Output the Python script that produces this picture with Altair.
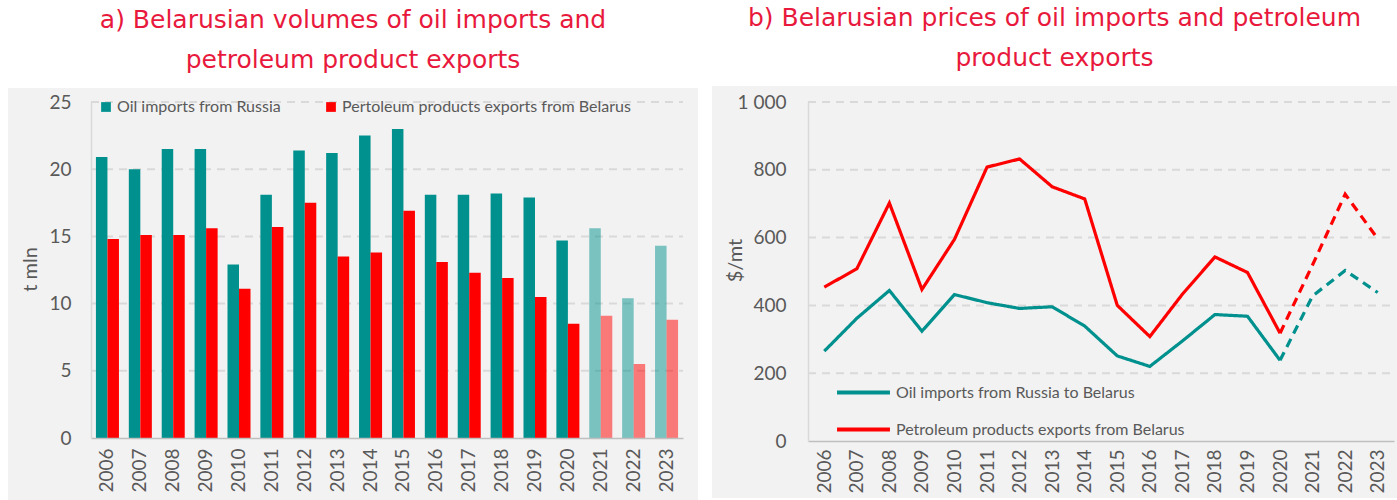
import altair as alt
import pandas as pd

years = [str(y) for y in range(2006, 2024)]

# Panel a: volumes, t mln
oil_imports_vol = [20.9, 20.0, 21.5, 21.5, 12.9, 18.1, 21.4, 21.2, 22.5, 23.0,
                   18.1, 18.1, 18.2, 17.9, 14.7, 15.6, 10.4, 14.3]
product_exports_vol = [14.8, 15.1, 15.1, 15.6, 11.1, 15.7, 17.5, 13.5, 13.8, 16.9,
                       13.1, 12.3, 11.9, 10.5, 8.5, 9.1, 5.5, 8.8]
ticks_a = [0, 5, 10, 15, 20, 25]

# Panel b: prices, $/mt
oil_imports_price = [265, 362, 444, 324, 432, 408, 391, 396, 339, 251,
                     220, 295, 373, 368, 238, 428, 503, 438]
product_exports_price = [454, 508, 702, 447, 595, 808, 832, 750, 714, 400,
                         308, 433, 543, 497, 318, 520, 728, 597]
ticks_b = [0, 200, 400, 600, 800, 1000]

estimate_from = 2021  # faded / dashed years
s_vol = ["Oil imports from Russia", "Pertoleum products exports from Belarus"]
s_price = ["Oil imports from Russia to Belarus", "Petroleum products exports from Belarus"]

TEAL = "#00918E"
RED = "#FF0000"
GREY_TXT = "#595959"
BG = "#F2F2F2"
GRID = "#D9D9D9"
FONT = "Lato"

# ---------- data tables ----------
rows = []
for i, y in enumerate(years):
    est = int(y) >= estimate_from
    rows.append({"year": y, "series": s_vol[0], "value": oil_imports_vol[i], "est": est})
    rows.append({"year": y, "series": s_vol[1], "value": product_exports_vol[i], "est": est})
bars_df = pd.DataFrame(rows)

lrows = []
for name, vals in [(s_price[0], oil_imports_price), (s_price[1], product_exports_price)]:
    for i, y in enumerate(years):
        yi = int(y)
        if yi <= 2020:
            lrows.append({"year": y, "series": name, "value": vals[i], "seg": "actual"})
        if yi >= 2020:
            lrows.append({"year": y, "series": name, "value": vals[i], "seg": "estimate"})
lines_df = pd.DataFrame(lrows)

bg_df = pd.DataFrame({"k": [0]})
grid_a_df = pd.DataFrame({"value": ticks_a[1:]})
grid_b_df = pd.DataFrame({"value": ticks_b[1:]})


def x_axis(pad):
    return alt.Axis(labelAngle=-90, labelAlign="right", labelBaseline="middle",
                    labelPadding=pad, ticks=False, domainColor="#BFBFBF",
                    domainWidth=1.5, grid=False, zindex=1)


# ---------- panel a ----------
WA, HA = 592, 336
bg_a = alt.Chart(bg_df).mark_rect(fill=BG).encode(
    x=alt.value(-83), x2=alt.value(WA + 15), y=alt.value(-14), y2=alt.value(HA + 62)
)
grid_a = alt.Chart(grid_a_df).mark_rule(color=GRID, strokeWidth=2, strokeDash=[8, 6]).encode(
    y=alt.Y("value:Q", scale=alt.Scale(domain=[0, 25])),
    x=alt.value(0), x2=alt.value(WA),
)
bars = alt.Chart(bars_df).mark_bar().encode(
    x=alt.X("year:N", sort=years, title=None,
            scale=alt.Scale(paddingInner=0.3, paddingOuter=0.15),
            axis=x_axis(10)),
    xOffset=alt.XOffset("series:N", sort=s_vol, scale=alt.Scale(paddingInner=0)),
    y=alt.Y("value:Q", title="t mln",
            scale=alt.Scale(domain=[0, 25]),
            axis=alt.Axis(values=ticks_a, ticks=False, labelPadding=20, grid=False,
                          domainColor=GRID, domainWidth=1.5, zindex=1,
                          titleX=-61, titleY=167, titleAngle=-90,
                          titleAlign="center", titleBaseline="middle")),
    color=alt.Color("series:N", sort=s_vol,
                    scale=alt.Scale(domain=s_vol, range=[TEAL, RED]),
                    legend=alt.Legend(title=None, orient="none", direction="horizontal",
                                      legendX=7, legendY=-3, symbolType="square",
                                      symbolSize=95, symbolStrokeWidth=0,
                                      labelFontSize=16, labelColor=GREY_TXT, labelFont=FONT,
                                      labelOffset=3, columnPadding=42, labelLimit=400,
                                      padding=0)),
    opacity=alt.condition("datum.est", alt.value(0.5), alt.value(1.0)),
)
panel_a = alt.layer(bg_a, grid_a, bars).properties(
    width=WA, height=HA,
    title=alt.Title(["a) Belarusian volumes of oil imports and", "petroleum product exports"],
                    anchor="middle", frame="bounds", offset=15),
)

# ---------- panel b ----------
WB, HB = 586, 339
bg_b = alt.Chart(bg_df).mark_rect(fill=BG).encode(
    x=alt.value(-96), x2=alt.value(WB + 3), y=alt.value(-16), y2=alt.value(HB + 57)
)
grid_b = alt.Chart(grid_b_df).mark_rule(color=GRID, strokeWidth=2, strokeDash=[8, 6]).encode(
    y=alt.Y("value:Q", scale=alt.Scale(domain=[0, 1000])),
    x=alt.value(0), x2=alt.value(WB - 4),
)
lines = alt.Chart(lines_df).mark_line(strokeWidth=3.2).encode(
    x=alt.X("year:N", sort=years, title=None,
            scale=alt.Scale(type="point", padding=0.5),
            axis=x_axis(8)),
    y=alt.Y("value:Q", title="$/mt",
            scale=alt.Scale(domain=[0, 1000]),
            axis=alt.Axis(values=ticks_b, ticks=False, labelPadding=22, grid=False,
                          labelExpr="replace(format(datum.value, ','), ',', ' ')",
                          domainColor=GRID, domainWidth=1.5, zindex=1,
                          titleX=-73, titleY=158, titleAngle=-90,
                          titleAlign="center", titleBaseline="middle")),
    color=alt.Color("series:N", sort=s_price,
                    scale=alt.Scale(domain=s_price, range=[TEAL, RED]),
                    legend=alt.Legend(title=None, orient="none", direction="vertical",
                                      legendX=27, legendY=262, symbolType="stroke",
                                      symbolSize=2800, symbolStrokeWidth=4,
                                      labelFontSize=16, labelColor=GREY_TXT, labelFont=FONT,
                                      labelOffset=4, rowPadding=-25, labelLimit=400,
                                      padding=0)),
    strokeDash=alt.StrokeDash("seg:N",
                              scale=alt.Scale(domain=["actual", "estimate"],
                                              range=[[1, 0], [9, 6]]),
                              legend=None),
    detail="seg:N",
)
panel_b = alt.layer(bg_b, grid_b, lines).properties(
    width=WB, height=HB,
    title=alt.Title(["b) Belarusian prices of oil imports and petroleum", "product exports"],
                    anchor="middle", frame="bounds", offset=15),
)

chart = alt.hconcat(panel_a, panel_b, spacing=14).resolve_scale(
    color="independent", strokeDash="independent", x="independent", y="independent"
).resolve_legend(
    color="independent", strokeDash="independent"
).properties(
    padding={"left": 8, "top": 6, "right": 0, "bottom": 0},
    background="white",
).configure_view(
    stroke=None, fill=BG
).configure_axis(
    labelFont=FONT, labelFontSize=19, labelColor=GREY_TXT,
    titleFont=FONT, titleFontSize=20, titleColor=GREY_TXT, titleFontWeight="normal",
).configure_title(
    font="DejaVu Sans", fontSize=25, fontWeight="normal", color="#E8193C",
    lineHeight=40,
)

chart.save("out.html", embed_options={"renderer": "svg", "actions": False})
